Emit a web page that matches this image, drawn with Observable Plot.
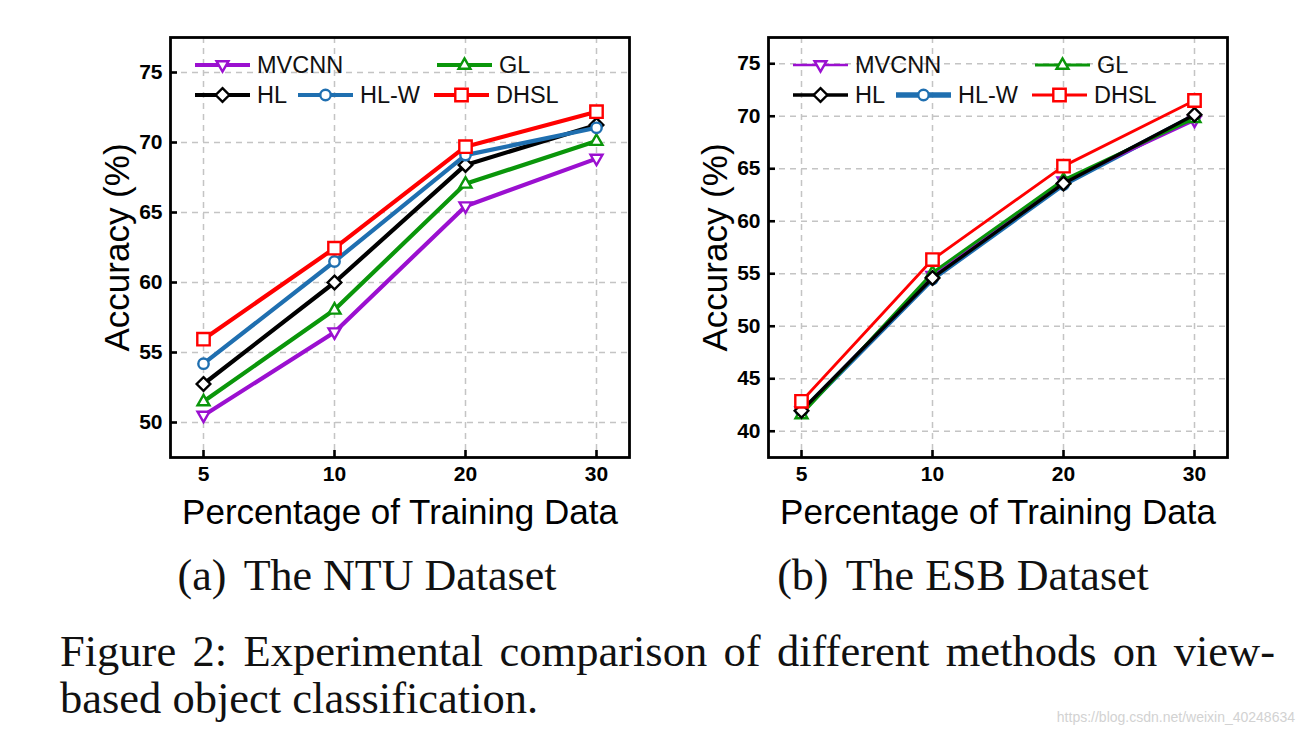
<!DOCTYPE html>
<html>
<head>
<meta charset="utf-8">
<script src="https://cdn.jsdelivr.net/npm/d3@7"></script>
<script src="https://cdn.jsdelivr.net/npm/@observablehq/plot@0.6"></script>
<style>
  html, body { margin: 0; padding: 0; background: #fff; }
  body { width: 1303px; height: 733px; position: relative; overflow: hidden; }
  .chart { position: absolute; top: 0; }
  .legend { position: absolute; top: 0; left: 0; pointer-events: none; }
  .serif { position: absolute; font-family: "Liberation Serif", "Times New Roman", serif; color: #111; white-space: nowrap; line-height: 1; }
  .sub { font-size: 44px; text-align: center; width: 600px; }
  .cap { font-size: 44.5px; }
  .wm { position: absolute; font-family: "Liberation Sans", Arial, sans-serif; font-size: 14px; color: #d2d2d2; line-height: 1; white-space: nowrap; }
</style>
</head>
<body>
<div id="left" class="chart" style="left:0px"></div>
<div id="right" class="chart" style="left:645px"></div>
<svg id="legendLayer" class="legend" width="1303" height="733"></svg>
<div class="serif sub" style="left:67px; top:554px">(a)<span style="margin-left:7px"> </span>The NTU Dataset</div>
<div class="serif sub" style="left:663px; top:554px">(b)<span style="margin-left:7px"> </span>The ESB Dataset</div>
<div class="serif cap" style="left:60px; top:629px; width:1215px; text-align:justify; text-align-last:justify;">Figure 2: Experimental comparison of different methods on view-</div>
<div class="serif cap" style="left:60px; top:676px;">based object classification.</div>
<div class="wm" style="right:8px; top:710px">https://blog.csdn.net/weixin_40248634</div>
<script>
// ---- data ----
const percentages = ["5", "10", "20", "30"];
const methods = ["MVCNN", "GL", "HL", "HL-W", "DHSL"];

const ntuMVCNN = [50.5, 56.45, 65.45, 68.85];
const ntuGL    = [51.5, 58.05, 67.05, 70.1];
const ntuHL    = [52.75, 60.0, 68.4, 71.25];
const ntuHLW   = [54.2, 61.5, 69.1, 71.05];
const ntuDHSL  = [55.95, 62.45, 69.7, 72.2];

const esbMVCNN = [41.9, 54.8, 63.8, 69.6];
const esbGL    = [41.6, 55.1, 63.95, 69.8];
const esbHL    = [41.95, 54.6, 63.6, 70.15];
const esbHLW   = [41.85, 54.5, 63.5, 70.05];
const esbDHSL  = [42.85, 56.35, 65.25, 71.5];

const ntuTicks = [50, 55, 60, 65, 70, 75];
const esbTicks = [40, 45, 50, 55, 60, 65, 70, 75];
const ntuDomain = [47.5, 77.5];
const esbDomain = [37.5, 77.5];

const xLabel = "Percentage of Training Data";
const yLabel = "Accuracy (%)";

// ---- styling ----
const colors = {"MVCNN": "#9b10d0", "GL": "#0a960a", "HL": "#000000", "HL-W": "#1f6fb0", "DHSL": "#ff0000"};

function poly(pts) {
  return {draw(ctx, size) {
    const h = Math.sqrt(size / Math.PI);
    ctx.moveTo(pts[0][0] * h, pts[0][1] * h);
    for (let i = 1; i < pts.length; i++) ctx.lineTo(pts[i][0] * h, pts[i][1] * h);
    ctx.closePath();
  }};
}
const symTriDown = poly([[0, 1.05], [0.95, -0.6], [-0.95, -0.6]]);
const symTriUp = poly([[0, -1.05], [0.95, 0.6], [-0.95, 0.6]]);
const symDiamond = poly([[0, -1.1], [1.1, 0], [0, 1.1], [-1.1, 0]]);
const symSquare = poly([[-1, -1], [1, -1], [1, 1], [-1, 1]]);
const symCircle = {draw(ctx, size) { const h = Math.sqrt(size / Math.PI); ctx.moveTo(h, 0); ctx.arc(0, 0, h, 0, 2 * Math.PI); }};
const symbols = {"MVCNN": symTriDown, "GL": symTriUp, "HL": symDiamond, "HL-W": symCircle, "DHSL": symSquare};
const symR = {"MVCNN": 6.3, "GL": 6.3, "HL": 6.2, "HL-W": 5.2, "DHSL": 6.2};

const FONT = "'Liberation Sans', Arial, Helvetica, sans-serif";

function makeChart(el, cfg) {
  const gridStyle = {stroke: "#c4c4c4", strokeOpacity: 1, strokeWidth: 1.5, strokeDasharray: "6,5"};
  const marks = [
    Plot.gridX(percentages, gridStyle),
    Plot.gridY(cfg.ticks, gridStyle)
  ];
  for (const m of cfg.order) {
    const vals = cfg.values[m];
    const rows = percentages.map((p, i) => ({pct: p, value: vals[i]}));
    marks.push(Plot.line(rows, {x: "pct", y: "value", stroke: colors[m], strokeWidth: cfg.lw[m], strokeLinejoin: "round"}));
    marks.push(Plot.dot(rows, {x: "pct", y: "value", symbol: symbols[m], r: symR[m], stroke: colors[m], fill: "white", strokeWidth: 2.4}));
  }
  marks.push(
    Plot.frame({stroke: "black", strokeWidth: 2.8}),
    // inward ticks
    Plot.axisY(cfg.ticks, {anchor: "left", tickSize: 7, dx: 7, strokeWidth: 2.6, tickFormat: () => "", label: null}),
    Plot.axisX(percentages, {anchor: "bottom", tickSize: 7, dy: -7, strokeWidth: 2.6, tickFormat: () => "", label: null}),
    // tick labels
    Plot.axisY(cfg.ticks, {anchor: "left", tickSize: 0, tickPadding: 8, fontSize: 21, fontWeight: "bold", label: null}),
    Plot.axisX(percentages, {anchor: "bottom", tickSize: 0, tickPadding: 9, fontSize: 21, fontWeight: "bold", label: null}),
    // axis titles
    Plot.axisY([], {anchor: "left", label: yLabel, labelAnchor: "center", labelOffset: 66, labelArrow: "none", fontSize: 35}),
    Plot.axisX([], {anchor: "bottom", label: xLabel, labelAnchor: "center", labelOffset: 66, labelArrow: "none", fontSize: 35})
  );
  const chart = Plot.plot({
    width: cfg.marginLeft + 459 + 15,
    height: 540,
    marginLeft: cfg.marginLeft,
    marginRight: 15,
    marginTop: 37,
    marginBottom: 83,
    style: {fontFamily: FONT, color: "black", background: "transparent", overflow: "visible"},
    x: {type: "point", domain: percentages, padding: 0.244},
    y: {domain: cfg.domain},
    marks
  });
  document.getElementById(el).appendChild(chart);
}

makeChart("left", {
  marginLeft: 170,
  domain: ntuDomain,
  ticks: ntuTicks,
  values: {"MVCNN": ntuMVCNN, "GL": ntuGL, "HL": ntuHL, "HL-W": ntuHLW, "DHSL": ntuDHSL},
  order: ["MVCNN", "GL", "HL", "HL-W", "DHSL"],
  lw: {"MVCNN": 4.2, "GL": 4.2, "HL": 4.2, "HL-W": 4.2, "DHSL": 4.2}
});
makeChart("right", {
  marginLeft: 123,
  domain: esbDomain,
  ticks: esbTicks,
  values: {"MVCNN": esbMVCNN, "GL": esbGL, "HL": esbHL, "HL-W": esbHLW, "DHSL": esbDHSL},
  order: ["HL-W", "MVCNN", "GL", "HL", "DHSL"],
  lw: {"MVCNN": 2.6, "GL": 3, "HL": 3.4, "HL-W": 5, "DHSL": 2.8}
});

// ---- legends (inside each plot frame, top-left) ----
const legendSlots = [
  {m: "MVCNN", dx: 25, row: 0},
  {m: "GL", dx: 267, row: 0},
  {m: "HL", dx: 25, row: 1},
  {m: "HL-W", dx: 128, row: 1},
  {m: "DHSL", dx: 264, row: 1}
];
const legendBoxes = [
  {frameLeft: 170, frameTop: 37, lw: {"MVCNN": 4.2, "GL": 4.2, "HL": 4.2, "HL-W": 4.2, "DHSL": 4.2}},
  {frameLeft: 768, frameTop: 37, lw: {"MVCNN": 2.6, "GL": 3, "HL": 3.4, "HL-W": 5.5, "DHSL": 2.8}}
];
const layer = d3.select("#legendLayer");
for (const box of legendBoxes) {
  for (const s of legendSlots) {
    const x0 = box.frameLeft + s.dx, len = 55;
    const y = box.frameTop + 28 + s.row * 30;
    const g = layer.append("g");
    g.append("line").attr("x1", x0).attr("x2", x0 + len).attr("y1", y).attr("y2", y)
      .attr("stroke", colors[s.m]).attr("stroke-width", box.lw[s.m]);
    const sz = Math.PI * symR[s.m] * symR[s.m];
    g.append("path").attr("transform", `translate(${x0 + len / 2},${y})`)
      .attr("d", d3.symbol(symbols[s.m], sz)())
      .attr("fill", "white").attr("stroke", colors[s.m]).attr("stroke-width", 2.4);
    g.append("text").attr("x", x0 + len + 7).attr("y", y).attr("dy", "0.36em")
      .attr("font-family", FONT).attr("font-size", 23.5).attr("fill", "#111").text(s.m);
  }
}
</script>
</body>
</html>
